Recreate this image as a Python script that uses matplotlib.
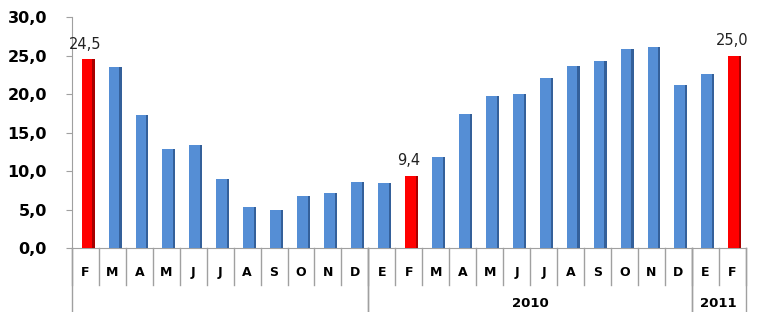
import numpy as np
import matplotlib.pyplot as plt
from matplotlib.transforms import blended_transform_factory

meses = ["F", "M", "A", "M", "J", "J", "A", "S", "O", "N", "D",
         "E", "F", "M", "A", "M", "J", "J", "A", "S", "O", "N", "D",
         "E", "F"]
valores = [24.5, 23.5, 17.3, 12.9, 13.4, 9.0, 5.3, 5.0, 6.8, 7.2, 8.6,
           8.4, 9.4, 11.8, 17.4, 19.7, 20.0, 22.1, 23.6, 24.3, 25.9, 26.1, 21.2,
           22.6, 25.0]
destacados = [0, 12, 24]
etiquetas = {0: "24,5", 12: "9,4", 24: "25,0"}
anios = [("", 0, 11), ("2010", 11, 23), ("2011", 23, 25)]

azul, azul_osc = "#558ed5", "#34609a"
rojo, rojo_osc = "#ff0000", "#a80000"

fig = plt.figure(figsize=(7.57, 3.12), dpi=100)
ax = fig.add_axes([0.095, 0.205, 0.890, 0.740])

x = np.arange(len(valores))
cols = [rojo if i in destacados else azul for i in x]
cols_osc = [rojo_osc if i in destacados else azul_osc for i in x]
ax.bar(x + 0.1, valores, width=0.48, color=cols, zorder=3)
ax.bar(x + 0.30, valores, width=0.08, color=cols_osc, zorder=3)

for i, txt in etiquetas.items():
    ax.text(i, valores[i] + 1.0, txt, ha="center", va="bottom", fontsize=10.5,
            color="#222222")

ax.set_xlim(-0.5, len(valores) - 0.5)
ax.set_ylim(0, 30)
ax.set_yticks(np.arange(0, 31, 5))
ax.set_yticklabels([f"{v:.1f}".replace(".", ",") for v in np.arange(0, 31, 5)],
                   fontsize=11.5, fontweight="bold")
ax.set_xticks([])
for s in ["top", "right"]:
    ax.spines[s].set_visible(False)
ax.spines["left"].set_color("#a0a0a0")
ax.spines["bottom"].set_color("#a0a0a0")
ax.tick_params(axis="y", color="#a0a0a0", length=4, pad=14)

tr = blended_transform_factory(ax.transData, ax.transAxes)
for i, m in enumerate(meses):
    ax.text(i, -0.105, m, transform=tr, ha="center", va="center",
            fontsize=9, fontweight="bold")
for b in np.arange(len(meses) + 1) - 0.5:
    ax.plot([b, b], [0, -0.16], transform=tr, color="#a0a0a0", lw=1,
            clip_on=False)
for nombre, ini, fin in anios:
    for b in [ini - 0.5, fin - 0.5]:
        ax.plot([b, b], [0, -0.28], transform=tr, color="#a0a0a0", lw=1,
                clip_on=False)
    if nombre:
        ax.text((ini + fin - 1) / 2, -0.24, nombre, transform=tr,
                ha="center", va="center", fontsize=9.5, fontweight="bold")

fig.savefig("out.png", dpi=100)
